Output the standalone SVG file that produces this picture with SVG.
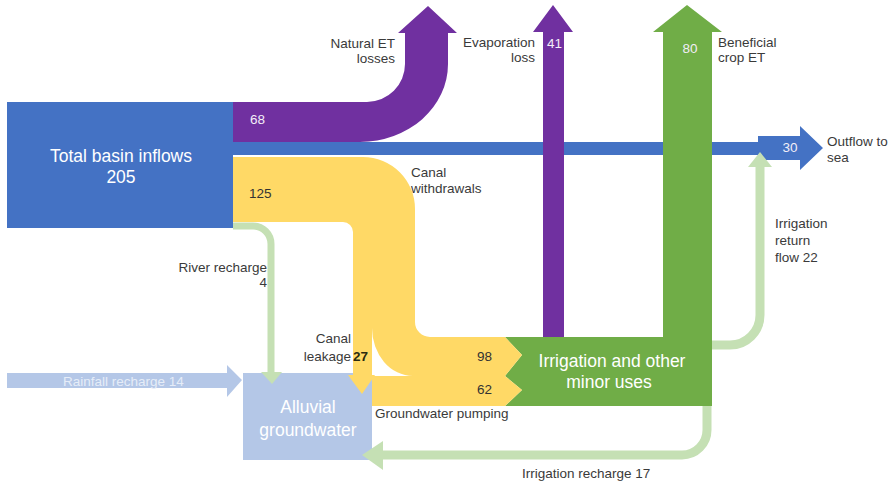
<svg xmlns="http://www.w3.org/2000/svg" width="893" height="484" viewBox="0 0 893 484">
<style>
text{font-family:"Liberation Sans",Arial,sans-serif;}
.lbl{font-size:13.5px;fill:#3a3a3a;}
.num{font-size:13.5px;fill:#333;}
.wnum{font-size:13.5px;fill:#f2eef8;}
.big{font-size:17.5px;fill:#fff;text-anchor:middle;}
.blue{fill:#4472c4;}
.purple{fill:#7030a0;}
.yellow{fill:#ffd966;}
.green{fill:#70ad47;}
.lblue{fill:#b4c7e7;}
.thin{fill:none;stroke:#c5e0b4;stroke-width:9;}
.thinhead{fill:#c5e0b4;}
</style>
<rect width="893" height="484" fill="#fff"/>

<g id="node-inflows">
<rect class="blue" x="7" y="102" width="226" height="126"/>
<text class="big" x="121" y="162">Total basin inflows</text>
<text class="big" x="121" y="183">205</text>
</g>

<g id="node-irrigation">
<path class="green" d="M505,337 H712 V406 H505 L522,390 L505,376 L522,355 Z"/>
<text class="big" x="612" y="367">Irrigation and other</text>
<text class="big" x="609" y="388">minor uses</text>
</g>

<g id="node-groundwater">
<rect class="lblue" x="243" y="373" width="129" height="87"/>
<text class="big" x="308" y="413">Alluvial</text>
<text class="big" x="308" y="436">groundwater</text>
</g>

<g id="connectors">
<!-- outflow to sea -->
<path class="blue" d="M233,142 H758 V136 H800 V126 L823,148 L800,170 V160 H758 V155 H233 Z"/>
<!-- natural ET -->
<path class="purple" d="M233,102 H367 A38,38 0 0 0 405,64 V33 H398 L428,6 L457,33 H448 V64 A88,78 0 0 1 360,142 H233 Z"/>
<!-- canal withdrawals, leakage -->
<path class="yellow" d="M233,157 H363 A52,52 0 0 1 415,209 V322 A15,15 0 0 0 430,337 H505 L522,355 L505,376 H413 A41,48 0 0 1 372,328 V375 L375,375 L362,394 L348,375 H353 V232 A10,10 0 0 0 343,222 H233 Z"/>
<!-- groundwater pumping -->
<path class="yellow" d="M372,376 H505 L522,390 L505,406 H372 Z"/>
<!-- evaporation loss -->
<path class="purple" d="M543,337 V32 H533 L553,5 L573,32 H564 V337 Z"/>
<!-- beneficial crop ET -->
<path class="green" d="M663,338 V32 H653 L687,5 L722,32 H712 V338 Z"/>
<!-- river recharge -->
<path class="thin" style="stroke-width:7" d="M233,226 H253 A18,18 0 0 1 271,244 V373"/>
<polygon class="thinhead" points="261,372 282,372 272,384"/>
<!-- rainfall recharge -->
<path class="lblue" d="M7,373 H227 V365 L242,380 L227,397 V388 H7 Z"/>
<!-- irrigation return flow -->
<path class="thin" d="M712,345 H730 A30,30 0 0 0 760,315 V166"/>
<polygon class="thinhead" points="748,167 772,167 760,152"/>
<!-- irrigation recharge -->
<path class="thin" d="M707,406 V430 A25,25 0 0 1 682,455 H382"/>
<polygon class="thinhead" points="383,441 383,470 362,455"/>
</g>

<g id="labels">
<text class="lbl" x="395" y="48" text-anchor="end">Natural ET</text>
<text class="lbl" x="395" y="63" text-anchor="end">losses</text>
<text class="wnum" x="250" y="124">68</text>
<text class="num" x="249" y="198">125</text>
<text class="lbl" x="411" y="177">Canal</text>
<text class="lbl" x="411" y="193">withdrawals</text>
<text class="lbl" x="535" y="47" text-anchor="end">Evaporation</text>
<text class="lbl" x="535" y="62" text-anchor="end">loss</text>
<text class="wnum" x="547" y="48">41</text>
<text class="wnum" x="690" y="53" text-anchor="middle">80</text>
<text class="lbl" x="718" y="47">Beneficial</text>
<text class="lbl" x="718" y="62">crop ET</text>
<text class="wnum" x="790" y="152" text-anchor="middle">30</text>
<text class="lbl" x="827" y="146">Outflow to</text>
<text class="lbl" x="827" y="162">sea</text>
<text class="lbl" x="775" y="228">Irrigation</text>
<text class="lbl" x="775" y="245">return</text>
<text class="lbl" x="775" y="262">flow 22</text>
<text class="lbl" x="267" y="272" text-anchor="end">River recharge</text>
<text class="lbl" x="267" y="287" text-anchor="end">4</text>
<text class="lbl" x="351" y="343" text-anchor="end">Canal</text>
<text class="lbl" x="351" y="361" text-anchor="end">leakage</text>
<text class="num" x="353" y="361" style="font-weight:bold;fill:#2a2a10">27</text>
<text class="num" x="477" y="361">98</text>
<text class="num" x="477" y="394">62</text>
<text class="lbl" x="63" y="386" style="fill:#e6edf8">Rainfall recharge 14</text>
<text class="lbl" x="375" y="418">Groundwater pumping</text>
<text class="lbl" x="522" y="478">Irrigation recharge 17</text>
</g>
</svg>
